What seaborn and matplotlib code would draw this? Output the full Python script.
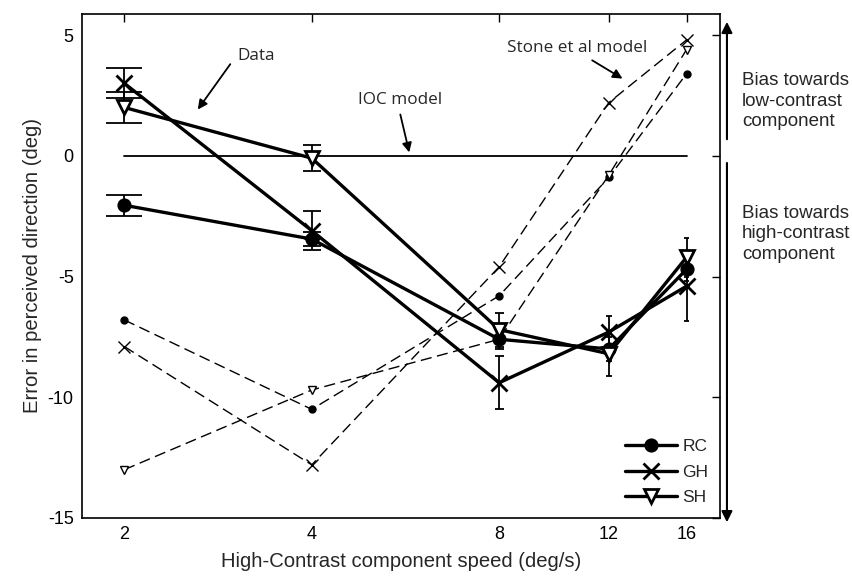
import numpy as np
import pandas as pd
import matplotlib
matplotlib.use('Agg')
import matplotlib.pyplot as plt
import seaborn as sns

# ----- data -----
speeds = [2, 4, 8, 12, 16]

rc_data = [-2.05, -3.45, -7.6, -8.0, -4.7]
rc_err = [0.43, 0.3, 0.4, 0.5, 0.5]
gh_data = [3.0, -3.1, -9.4, -7.3, -5.4]
gh_err = [0.62, 0.8, 1.1, 0.65, 1.45]
sh_data = [2.0, -0.1, -7.2, -8.2, -4.2]
sh_err = [0.65, 0.55, 0.7, 0.9, 0.8]

rc_model = [-6.8, -10.5, -5.8, -0.9, 3.4]
gh_model = [-7.9, -12.8, -4.6, 2.2, 4.8]
sh_model = [-13.0, -9.7, -7.6, -0.8, 4.4]

ioc_model = [0, 0, 0, 0, 0]

subjects = ['RC', 'GH', 'SH']
x_ticks = [2, 4, 8, 12, 16]
y_ticks = [5, 0, -5, -10, -15]

# ----- style -----
sns.set_style('white')
plt.rcParams['font.family'] = ['Liberation Sans', 'DejaVu Sans']
plt.rcParams['axes.unicode_minus'] = False

fig, ax = plt.subplots(figsize=(8.53, 5.77), dpi=100)
fig.subplots_adjust(left=0.0961, right=0.844, top=0.9757, bottom=0.1023)
ax.set_xscale('log', base=2)

data_sets = {'RC': (rc_data, rc_err), 'GH': (gh_data, gh_err), 'SH': (sh_data, sh_err)}
model_sets = {'RC': rc_model, 'GH': gh_model, 'SH': sh_model}
marker_big = {'RC': dict(marker='o', markersize=9, markerfacecolor='black', markeredgewidth=1.2),
              'GH': dict(marker='x', markersize=12, markeredgewidth=2.0),
              'SH': dict(marker='v', markersize=10, markerfacecolor='white', markeredgewidth=2.0)}
marker_small = {'RC': dict(marker='o', markersize=5, markerfacecolor='black', markeredgewidth=1),
                'GH': dict(marker='x', markersize=9, markeredgewidth=1.0),
                'SH': dict(marker='v', markersize=6, markerfacecolor='white', markeredgewidth=1.0)}

# Stone et al model (dashed)
for s in subjects:
    df = pd.DataFrame({'speed': speeds, 'error': model_sets[s]})
    sns.lineplot(data=df, x='speed', y='error', ax=ax, color='black', lw=1.0,
                 linestyle=(0, (8, 4)), markeredgecolor='black', **marker_small[s])

# IOC model
sns.lineplot(x=speeds, y=ioc_model, ax=ax, color='black', lw=1.3)

# data with error bars
cap_half = 0.133
handles = []
for s in subjects:
    vals, err = data_sets[s]
    vals = np.array(vals); err = np.array(err); xs = np.array(speeds, dtype=float)
    ax.vlines(xs, vals - err, vals + err, color='black', lw=1.3, zorder=3)
    ax.hlines(np.r_[vals - err, vals + err], np.r_[xs - cap_half, xs - cap_half],
              np.r_[xs + cap_half, xs + cap_half], color='black', lw=1.3, zorder=3)
    df = pd.DataFrame({'speed': speeds, 'error': vals})
    sns.lineplot(data=df, x='speed', y='error', ax=ax, color='black', lw=2.4,
                 markeredgecolor='black', zorder=4, label=s, **marker_big[s])
    handles.append(ax.lines[-1])

leg = ax.legend(handles=handles, labels=subjects, loc='lower right', frameon=False,
                fontsize=12.5, handlelength=3.0, handletextpad=0.3, labelspacing=0.6,
                bbox_to_anchor=(1.006, -0.006))

# axes
ax.set_xlim(1.71, 18.1)
ax.set_ylim(-15, 5.87)
ax.set_xticks(x_ticks)
ax.set_xticklabels([str(v) for v in x_ticks])
ax.xaxis.set_minor_locator(matplotlib.ticker.NullLocator())
ax.set_yticks(y_ticks)
ax.set_yticklabels([str(v) for v in y_ticks])
ax.tick_params(direction='in', length=6, width=1, top=True, right=True,
               labelsize=13, colors='black', pad=6)
for sp in ax.spines.values():
    sp.set_color('black')
    sp.set_linewidth(1.2)
ax.set_xlabel('High-Contrast component speed (deg/s)', fontsize=14.6, labelpad=6)
ax.set_ylabel('Error in perceived direction (deg)', fontsize=14.6, labelpad=4)

# annotations
note_font = ['Open Sans', 'DejaVu Sans']
arrow_kw = dict(arrowstyle='-|>', color='black', lw=1.3, mutation_scale=14)
ax.text(0.243, 0.917, 'Data', transform=ax.transAxes, fontsize=12.3, va='center',
        family=note_font)
ax.annotate('', xy=(0.179, 0.806), xytext=(0.235, 0.905), xycoords='axes fraction',
            arrowprops=arrow_kw)
ax.text(0.433, 0.829, 'IOC model', transform=ax.transAxes, fontsize=12.3, va='center',
        family=note_font)
ax.annotate('', xy=(0.514, 0.720), xytext=(0.498, 0.806), xycoords='axes fraction',
            arrowprops=arrow_kw)
ax.text(0.666, 0.933, 'Stone et al model', transform=ax.transAxes, fontsize=12.3,
        va='center', family=note_font)
ax.annotate('', xy=(0.851, 0.869), xytext=(0.796, 0.911), xycoords='axes fraction',
            arrowprops=arrow_kw)

# right-hand bias arrows
side_kw = dict(arrowstyle='-|>', color='black', lw=1.5, mutation_scale=16)
ax.annotate('', xy=(1.011, 0.99), xytext=(1.011, 0.746), xycoords='axes fraction',
            arrowprops=side_kw, annotation_clip=False)
ax.annotate('', xy=(1.011, -0.014), xytext=(1.011, 0.710), xycoords='axes fraction',
            arrowprops=side_kw, annotation_clip=False)
fig.text(742 / 853, 1 - 101 / 577, 'Bias towards\nlow-contrast\ncomponent', fontsize=13.5,
         va='center', ha='left', linespacing=1.3)
fig.text(742 / 853, 1 - 234 / 577, 'Bias towards\nhigh-contrast\ncomponent', fontsize=13.5,
         va='center', ha='left', linespacing=1.3)

fig.savefig('out.png', dpi=100, facecolor='white')
